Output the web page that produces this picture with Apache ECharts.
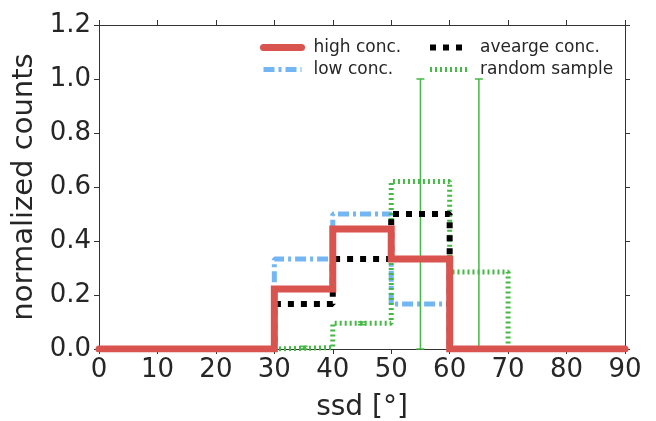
<!DOCTYPE html>
<html>
<head>
<meta charset="utf-8">
<script src="https://cdn.jsdelivr.net/npm/echarts@6/dist/echarts.min.js"></script>
<style>html,body{margin:0;padding:0;background:#fff}#c{width:656px;height:421px}</style>
</head>
<body>
<div id="c"></div>
<script>
var binEdges = [0, 10, 20, 30, 40, 50, 60, 70, 80, 90];
var highConc = [0, 0, 0, 0.222, 0.444, 0.333, 0, 0, 0];
var lowConc = [0, 0, 0, 0.333, 0.5, 0.167, 0, 0, 0];
var avgConc = [0, 0, 0, 0.167, 0.333, 0.5, 0, 0, 0];
var randomSample = [0, 0, 0, 0.005, 0.095, 0.62, 0.285, 0, 0];
var errX = [35, 45, 55, 65];
var errLow = [0, 0.09, 0, 0];
var errHigh = [0.01, 0.1, 1.0, 1.0];
var xTicks = [0, 10, 20, 30, 40, 50, 60, 70, 80, 90];
var yTicks = [0.0, 0.2, 0.4, 0.6, 0.8, 1.0, 1.2];

function stepData(vals) {
  var d = [];
  for (var i = 0; i < vals.length; i++) d.push([binEdges[i], vals[i]]);
  d.push([binEdges[binEdges.length - 1], vals[vals.length - 1]]);
  return d;
}
var errData = errX.map(function (x, i) { return [x, errLow[i], errHigh[i]]; });

var txt = '#262626';
var axisCol = '#333333';
var font = 'DejaVu Sans';
var green = '#45b845';
var red = '#d9534f';
var blue = '#74b6f4';

var chart = echarts.init(document.getElementById('c'), null, {renderer: 'canvas'});
var baseX = {
  type: 'value', min: 0, max: 90, interval: 10,
  axisLine: {show: true, onZero: false, lineStyle: {color: axisCol, width: 1}},
  axisTick: {show: true, inside: false, length: 5, lineStyle: {color: axisCol}},
  splitLine: {show: false}
};
var baseY = {
  type: 'value', min: 0, max: 1.2, interval: 0.2,
  axisLine: {show: true, onZero: false, lineStyle: {color: axisCol, width: 1}},
  axisTick: {show: true, inside: false, length: 5, lineStyle: {color: axisCol}},
  splitLine: {show: false}
};
var legendBase = {
  top: 34, orient: 'vertical', itemGap: 5, itemWidth: 38, itemHeight: 20,
  itemStyle: {opacity: 0},
  textStyle: {fontFamily: font, fontSize: 17, color: txt, padding: [0, 0, 0, 7]}
};
var option = {
  animation: false,
  backgroundColor: '#ffffff',
  grid: {left: 99, right: 31, top: 25, bottom: 72, containLabel: false, outerBoundsMode: 'none'},
  xAxis: [
    Object.assign({}, baseX, {
      position: 'bottom',
      name: 'ssd [°]', nameLocation: 'middle', nameGap: 45,
      nameTextStyle: {fontFamily: font, fontSize: 28, color: txt},
      axisLabel: {fontFamily: font, fontSize: 26, color: txt, margin: 8,
        formatter: function (v) { return xTicks.indexOf(v) >= 0 ? String(v) : ''; }}
    }),
    Object.assign({}, baseX, {position: 'top', axisLabel: {show: false}})
  ],
  yAxis: [
    Object.assign({}, baseY, {
      position: 'left',
      name: 'normalized counts', nameLocation: 'middle', nameGap: 55, nameRotate: 90,
      nameTextStyle: {fontFamily: font, fontSize: 29, color: txt},
      axisLabel: {fontFamily: font, fontSize: 26, color: txt, margin: 8,
        formatter: function (v) { return v.toFixed(1); }}
    }),
    Object.assign({}, baseY, {position: 'right', axisLabel: {show: false}})
  ],
  legend: [
    Object.assign({}, legendBase, {left: 255, data: [
      {name: 'high conc.', lineStyle: {width: 7, color: red}},
      {name: 'low conc.', lineStyle: {width: 5, color: blue, type: [11, 4, 3, 4]}}
    ]}),
    Object.assign({}, legendBase, {left: 422, data: [
      {name: 'avearge conc.', lineStyle: {width: 6, color: '#000', type: [6, 7]}},
      {name: 'random sample', lineStyle: {width: 5, color: green, type: [2, 3]}}
    ]})
  ],
  series: [
    {
      name: 'low conc.', type: 'line', step: 'end', symbol: 'none', z: 2,
      data: stepData(lowConc),
      lineStyle: {color: blue, width: 5, type: [11, 4, 3, 4], cap: 'butt'},
      itemStyle: {color: blue}
    },
    {
      name: 'random sample', type: 'line', step: 'end', symbol: 'none', z: 3,
      data: stepData(randomSample),
      lineStyle: {color: green, width: 5, type: [2, 3], cap: 'butt'},
      itemStyle: {color: green}
    },
    {
      name: 'random sample', type: 'custom', z: 3,
      data: errData,
      renderItem: function (params, api) {
        var x = api.value(0);
        var lo = api.coord([x, api.value(1)]);
        var hi = api.coord([x, api.value(2)]);
        var s = {stroke: green, lineWidth: 1.5};
        return {
          type: 'group',
          children: [
            {type: 'line', shape: {x1: lo[0], y1: lo[1], x2: hi[0], y2: hi[1]}, style: s},
            {type: 'line', shape: {x1: hi[0] - 4, y1: hi[1], x2: hi[0] + 4, y2: hi[1]}, style: s},
            {type: 'line', shape: {x1: lo[0] - 4, y1: lo[1], x2: lo[0] + 4, y2: lo[1]}, style: s}
          ]
        };
      }
    },
    {
      name: 'avearge conc.', type: 'line', step: 'end', symbol: 'none', z: 4,
      data: stepData(avgConc),
      lineStyle: {color: '#000000', width: 6, type: [6, 7], cap: 'butt'},
      itemStyle: {color: '#000000'}
    },
    {
      name: 'high conc.', type: 'line', step: 'end', symbol: 'none', z: 5,
      data: stepData(highConc),
      lineStyle: {color: red, width: 7, cap: 'round', join: 'miter'},
      itemStyle: {color: red}
    }
  ]
};
chart.setOption(option);
</script>
</body>
</html>
